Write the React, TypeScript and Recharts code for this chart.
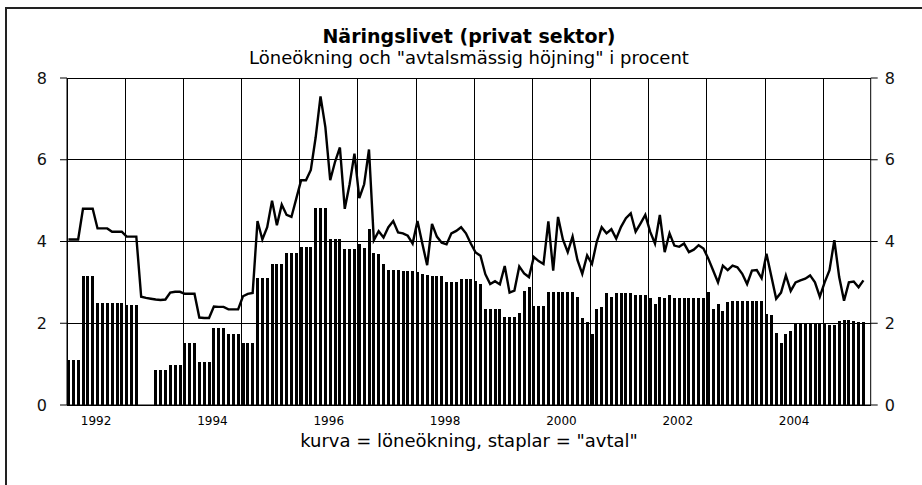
import React from 'react';
import { ComposedChart, Bar, Line, XAxis, YAxis, CartesianGrid, ReferenceLine } from 'recharts';

const START_YEAR = 1992;

// "avtal" – avtalsmässig höjning, one value per month from Jan 1992 (staplar)
const avtal = [
  1.1, 1.1, 1.1, 3.15, 3.15, 3.15, 2.5, 2.5, 2.5, 2.5, 2.5, 2.5, // 1992
  2.45, 2.45, 2.45, null, null, null, 0.85, 0.85, 0.85, 0.97, 0.97, 0.97, // 1993
  1.51, 1.51, 1.51, 1.05, 1.05, 1.05, 1.89, 1.89, 1.89, 1.74, 1.74, 1.74, // 1994
  1.51, 1.51, 1.51, 3.11, 3.11, 3.11, 3.46, 3.46, 3.46, 3.73, 3.73, 3.73, // 1995
  3.87, 3.87, 3.87, 4.82, 4.82, 4.82, 4.07, 4.07, 4.07, 3.81, 3.81, 3.81, // 1996
  3.95, 3.85, 4.3, 3.72, 3.69, 3.46, 3.31, 3.31, 3.31, 3.27, 3.27, 3.27, // 1997
  3.25, 3.2, 3.18, 3.15, 3.15, 3.15, 3.0, 3.0, 3.0, 3.08, 3.08, 3.08, // 1998
  3.03, 2.96, 2.35, 2.35, 2.35, 2.35, 2.16, 2.16, 2.16, 2.26, 2.8, 2.88, // 1999
  2.43, 2.43, 2.43, 2.77, 2.77, 2.77, 2.77, 2.77, 2.77, 2.65, 2.12, 2.04, // 2000
  1.73, 2.35, 2.39, 2.73, 2.65, 2.73, 2.73, 2.73, 2.73, 2.7, 2.7, 2.7, // 2001
  2.62, 2.47, 2.65, 2.62, 2.7, 2.62, 2.62, 2.62, 2.62, 2.62, 2.62, 2.62, // 2002
  2.77, 2.35, 2.47, 2.31, 2.53, 2.55, 2.55, 2.55, 2.55, 2.55, 2.55, 2.55, // 2003
  2.22, 2.2, 1.77, 1.52, 1.73, 1.81, 2.0, 2.0, 2.0, 2.0, 2.0, 2.0, // 2004
  2.0, 1.96, 1.96, 2.05, 2.08, 2.08, 2.05, 2.04, 2.04, // 2005
];

// löneökning per month (kurva)
const loneokning = [
  4.05, 4.05, 4.05, 4.8, 4.8, 4.8, 4.32, 4.32, 4.32, 4.24, 4.24, 4.24, // 1992
  4.12, 4.12, 4.12, 2.65, 2.62, 2.6, 2.58, 2.57, 2.58, 2.75, 2.77, 2.77, // 1993
  2.72, 2.72, 2.72, 2.14, 2.13, 2.13, 2.41, 2.4, 2.4, 2.34, 2.34, 2.34, // 1994
  2.66, 2.72, 2.74, 4.5, 4.05, 4.35, 5.0, 4.4, 4.9, 4.65, 4.6, 5.05, // 1995
  5.5, 5.5, 5.75, 6.55, 7.55, 6.8, 5.5, 5.95, 6.3, 4.8, 5.4, 6.15, // 1996
  5.06, 5.4, 6.25, 4.03, 4.25, 4.1, 4.35, 4.5, 4.22, 4.2, 4.14, 3.95, // 1997
  4.5, 3.95, 3.42, 4.43, 4.12, 3.97, 3.93, 4.2, 4.26, 4.35, 4.2, 3.95, // 1998
  3.73, 3.65, 3.2, 2.96, 3.03, 2.95, 3.4, 2.75, 2.8, 3.39, 3.22, 3.13, // 1999
  3.62, 3.52, 3.45, 4.49, 3.29, 4.6, 4.05, 3.74, 4.12, 3.55, 3.21, 3.66, // 2000
  3.45, 4.0, 4.35, 4.2, 4.3, 4.07, 4.36, 4.57, 4.69, 4.24, 4.44, 4.65, // 2001
  4.24, 3.95, 4.65, 3.74, 4.2, 3.9, 3.87, 3.95, 3.74, 3.8, 3.91, 3.83, // 2002
  3.58, 3.29, 3.0, 3.41, 3.3, 3.41, 3.37, 3.21, 2.96, 3.29, 3.3, 3.1, // 2003
  3.7, 3.15, 2.6, 2.75, 3.17, 2.79, 3.0, 3.05, 3.09, 3.17, 3.0, 2.65, // 2004
  3.0, 3.3, 4.03, 3.13, 2.55, 3.0, 3.02, 2.88, 3.05, // 2005
];

const yTicks = [0, 2, 4, 6, 8];
const yearStarts = [1992, 1993, 1994, 1995, 1996, 1997, 1998, 1999, 2000, 2001, 2002, 2003, 2004, 2005];
const labelledYears = [1992, 1994, 1996, 1998, 2000, 2002, 2004];

// each month sits a little right of its start on the time axis
const data = avtal.map((v, i) => ({
  t: START_YEAR + (i + 0.3) / 12,
  avtal: v,
  lon: loneokning[i],
}));

const X_DOMAIN: [number, number] = [START_YEAR, START_YEAR + 165.8 / 12];
const FONT = '"DejaVu Sans", Verdana, sans-serif';

export default function App() {
  return (
    <div style={{ position: 'absolute', left: 0, top: 0, width: 922, height: 485, overflow: 'hidden', background: '#fff', fontFamily: FONT }}>
      <div style={{ position: 'absolute', left: 5, top: 7, width: 1000, height: 600, border: '2px solid #222' }} />
      <div style={{ position: 'absolute', left: 169, width: 600, top: 27, textAlign: 'center', fontSize: 19, fontWeight: 'bold', lineHeight: '18px', color: '#000' }}>
        Näringslivet (privat sektor)
      </div>
      <div style={{ position: 'absolute', left: 169, width: 600, top: 49, textAlign: 'center', fontSize: 18, lineHeight: '18px', color: '#000' }}>
        Löneökning och "avtalsmässig höjning" i procent
      </div>
      <div style={{ position: 'absolute', left: 169, width: 600, top: 432, textAlign: 'center', fontSize: 18, lineHeight: '18px', color: '#000' }}>
        kurva = löneökning, staplar = "avtal"
      </div>
      <div style={{ position: 'absolute', left: 0, top: 0 }}>
        <ComposedChart width={922} height={485} data={data} margin={{ top: 78, right: 0, bottom: 52, left: 0 }}>
          <CartesianGrid
            xAxisId="time"
            yAxisId="left"
            stroke="#000"
            strokeWidth={1}
            vertical={false}
            horizontalValues={yTicks}
            shapeRendering="crispEdges"
          />
          <XAxis
            xAxisId="time"
            type="number"
            dataKey="t"
            domain={X_DOMAIN}
            allowDataOverflow
            ticks={yearStarts}
            interval={0}
            tick={false}
            tickSize={7}
            height={8}
            axisLine={{ stroke: '#000' }}
            tickLine={{ stroke: '#000' }}
          />
          <XAxis
            xAxisId="years"
            type="number"
            dataKey="t"
            domain={X_DOMAIN}
            allowDataOverflow
            ticks={labelledYears.map((y) => y + 0.5)}
            interval={0}
            tickFormatter={(v: number) => String(Math.floor(v))}
            axisLine={false}
            tickLine={false}
            tickSize={0}
            tickMargin={3}
            height={20}
            tick={{ fontSize: 12, fill: '#000', fontFamily: FONT }}
          />
          <YAxis
            yAxisId="left"
            domain={[0, 8]}
            ticks={yTicks}
            width={67}
            tickSize={7}
            tickMargin={13}
            axisLine={{ stroke: '#000' }}
            tickLine={{ stroke: '#000' }}
            tick={{ fontSize: 16, fill: '#111', fontFamily: FONT }}
          />
          <YAxis
            yAxisId="right"
            orientation="right"
            domain={[0, 8]}
            ticks={yTicks}
            width={51.3}
            tickSize={7}
            tickMargin={7}
            axisLine={{ stroke: '#000' }}
            tickLine={{ stroke: '#000' }}
            tick={{ fontSize: 16, fill: '#111', fontFamily: FONT }}
          />
          {yearStarts.map((y) => (
            <ReferenceLine
              key={y}
              x={y}
              xAxisId="time"
              yAxisId="left"
              stroke="#000"
              strokeWidth={1}
              shapeRendering="crispEdges"
            />
          ))}
          <Bar
            xAxisId="time"
            yAxisId="left"
            dataKey="avtal"
            fill="#000"
            barSize={3}
            shapeRendering="crispEdges"
            isAnimationActive={false}
          />
          <Line
            xAxisId="time"
            yAxisId="right"
            type="linear"
            dataKey="lon"
            stroke="#000"
            strokeWidth={2.4}
            dot={false}
            activeDot={false}
            isAnimationActive={false}
          />
        </ComposedChart>
      </div>
    </div>
  );
}
